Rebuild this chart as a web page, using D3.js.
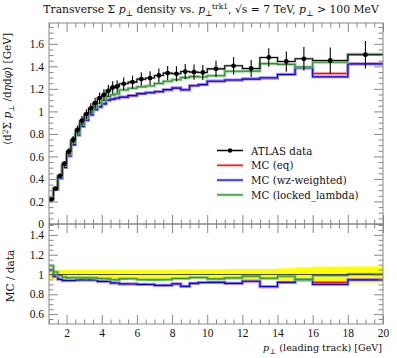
<!DOCTYPE html>
<html><head><meta charset="utf-8">
<script src="https://cdn.jsdelivr.net/npm/d3@7"></script>
<style>
html,body{margin:0;padding:0;background:#fff;}
svg{display:block;font-family:"DejaVu Serif",serif;}
</style></head>
<body><svg id="c" width="397" height="358"></svg>
<script>
// ---------- data ----------
const binEdges = [1,1.25,1.5,1.75,2,2.25,2.5,2.75,3,3.25,3.5,3.75,4,4.25,4.5,4.75,5,5.5,6,6.5,7,7.5,8,8.5,9,9.5,10,11,12,13,14,15,16,18,20];
const atlasData = [0.215,0.313,0.428,0.535,0.644,0.748,0.837,0.917,0.976,1.026,1.074,1.118,1.147,1.183,1.212,1.221,1.245,1.260,1.287,1.296,1.319,1.340,1.334,1.354,1.349,1.346,1.378,1.405,1.381,1.479,1.443,1.467,1.452,1.503];
const atlasErr = [0.010,0.014,0.019,0.024,0.029,0.034,0.038,0.041,0.044,0.046,0.048,0.050,0.052,0.053,0.055,0.055,0.056,0.057,0.060,0.061,0.063,0.064,0.067,0.068,0.067,0.067,0.072,0.077,0.076,0.082,0.090,0.105,0.115,0.122];
const mcEq = [0.226,0.306,0.409,0.501,0.603,0.705,0.789,0.869,0.924,0.968,1.017,1.042,1.065,1.102,1.107,1.119,1.125,1.142,1.156,1.168,1.176,1.191,1.209,1.190,1.230,1.236,1.270,1.277,1.289,1.293,1.330,1.384,1.336,1.424];
const mcWz = [0.224,0.308,0.407,0.503,0.605,0.703,0.791,0.867,0.922,0.970,1.015,1.040,1.067,1.100,1.109,1.117,1.127,1.140,1.158,1.166,1.174,1.193,1.207,1.192,1.228,1.238,1.268,1.279,1.287,1.299,1.328,1.388,1.307,1.422];
const mcLocked = [0.234,0.321,0.424,0.521,0.622,0.723,0.809,0.886,0.943,0.991,1.037,1.073,1.097,1.131,1.147,1.155,1.190,1.205,1.218,1.226,1.248,1.268,1.281,1.300,1.309,1.306,1.317,1.357,1.358,1.424,1.418,1.394,1.437,1.508];
const seriesNames = ["ATLAS data","MC (eq)","MC (wz-weighted)","MC (locked_lambda)"];
const xTickLabels = [2,4,6,8,10,12,14,16,18,20];
const yTickLabels = [0,0.2,0.4,0.6,0.8,1,1.2,1.4,1.6];
const ratioTickLabels = [0.6,0.8,1,1.2,1.4];

// ---------- layout ----------
const L=49, R=383, T=23, M=224, B=324;
const svg = d3.select("#c");
const x = d3.scaleLinear().domain([1,20]).range([L,R]);
const y = d3.scaleLinear().domain([0,1.785]).range([M,T]);
const yr = d3.scaleLinear().domain([0.5,1.51]).range([B,M]);

const defs = svg.append("defs");
defs.append("clipPath").attr("id","clipTop").append("rect").attr("x",L).attr("y",T).attr("width",R-L).attr("height",M-T);
defs.append("clipPath").attr("id","clipRat").append("rect").attr("x",L).attr("y",M).attr("width",R-L).attr("height",B-M);

const mcSeries = [
  {vals:mcEq, line:"#ff0000", halo:"#ff8080"},
  {vals:mcWz, line:"#0000ff", halo:"#8080ff"},
  {vals:mcLocked, line:"#2f8f2f", halo:"#80c880"}
];

function stepPts(vals){
  const pts=[];
  vals.forEach((v,i)=>{pts.push([binEdges[i],v]);pts.push([binEdges[i+1],v]);});
  return pts;
}

// ---------- top panel ----------
const gTop = svg.append("g").attr("clip-path","url(#clipTop)");
const lineTop = d3.line().x(d=>x(d[0])).y(d=>y(d[1]));
mcSeries.forEach(s=>{
  gTop.append("path").attr("d",lineTop(stepPts(s.vals))).attr("fill","none").attr("stroke",s.halo).attr("stroke-width",3).attr("opacity",0.8);
  gTop.append("path").attr("d",lineTop(stepPts(s.vals))).attr("fill","none").attr("stroke",s.line).attr("stroke-width",1.1);
});
gTop.append("path").attr("d",lineTop(stepPts(atlasData))).attr("fill","none").attr("stroke","#999").attr("stroke-width",2.6).attr("opacity",0.6);
gTop.append("path").attr("d",lineTop(stepPts(atlasData))).attr("fill","none").attr("stroke","#000").attr("stroke-width",1.1);
const centers = atlasData.map((v,i)=>(binEdges[i]+binEdges[i+1])/2);
atlasData.forEach((v,i)=>{
  gTop.append("line").attr("x1",x(centers[i])).attr("x2",x(centers[i]))
    .attr("y1",y(v-atlasErr[i])).attr("y2",y(v+atlasErr[i])).attr("stroke","#000").attr("stroke-width",1.1);
  gTop.append("circle").attr("cx",x(centers[i])).attr("cy",y(v)).attr("r",2.4).attr("fill","#000");
});

// ---------- ratio panel ----------
const gRat = svg.append("g").attr("clip-path","url(#clipRat)");
const band = [];
atlasData.forEach((v,i)=>{
  const r = atlasErr[i]/v;
  band.push({x0:binEdges[i],x1:binEdges[i+1],lo:1-r,hi:1+r});
});
band.forEach(b=>{
  gRat.append("rect").attr("x",x(b.x0)).attr("width",x(b.x1)-x(b.x0)+0.5)
    .attr("y",yr(b.hi)).attr("height",yr(b.lo)-yr(b.hi)).attr("fill","#ffff00");
});
const lineRat = d3.line().x(d=>x(d[0])).y(d=>yr(d[1]));
mcSeries.forEach(s=>{
  const rv = s.vals.map((v,i)=>v/atlasData[i]);
  gRat.append("path").attr("d",lineRat(stepPts(rv))).attr("fill","none").attr("stroke",s.halo).attr("stroke-width",3).attr("opacity",0.8);
  gRat.append("path").attr("d",lineRat(stepPts(rv))).attr("fill","none").attr("stroke",s.line).attr("stroke-width",1.1);
});
gRat.append("line").attr("x1",L).attr("x2",R).attr("y1",yr(1)).attr("y2",yr(1)).attr("stroke","#333").attr("stroke-width",0.9);

// ---------- axes / ticks ----------
const tickCol="#888";
const majX = xTickLabels, minX = d3.range(1,20.01,0.5).filter(v=>v%2!==0);
function styleAxis(g){g.select(".domain").remove();g.selectAll("line").attr("stroke",tickCol);g.selectAll("text").attr("fill","#111").attr("font-family","Liberation Serif, DejaVu Serif, serif").attr("font-size",11.5);}
function xTicks(yPos, dir, labels){
  const mk = dir==="top"?d3.axisTop:d3.axisBottom;
  const a1 = mk(x).tickValues(majX).tickSize(-9).tickPadding(5).tickFormat(labels?d3.format("d"):()=>"");
  const a2 = mk(x).tickValues(minX).tickSize(-4.5).tickFormat(()=>"");
  svg.append("g").attr("transform",`translate(0,${yPos})`).call(a1).call(styleAxis);
  svg.append("g").attr("transform",`translate(0,${yPos})`).call(a2).call(styleAxis);
}
xTicks(T,"top",false); xTicks(M,"bottom",false); xTicks(M,"top",false); xTicks(B,"bottom",true);

function fmtY(v){return v===0?"0":(v===1?"1":d3.format(".1f")(v));}
function yTicks(scale, majors, step, lo, hi){
  const mins = d3.range(lo,hi+1e-9,step).filter(v=>!majors.some(m=>Math.abs(m-v)<1e-6));
  svg.append("g").attr("transform",`translate(${L},0)`).call(d3.axisLeft(scale).tickValues(majors).tickSize(-9).tickPadding(5).tickFormat(fmtY)).call(styleAxis);
  svg.append("g").attr("transform",`translate(${L},0)`).call(d3.axisLeft(scale).tickValues(mins).tickSize(-4.5).tickFormat(()=>"")).call(styleAxis);
  svg.append("g").attr("transform",`translate(${R},0)`).call(d3.axisRight(scale).tickValues(majors).tickSize(-9).tickFormat(()=>"")).call(styleAxis);
  svg.append("g").attr("transform",`translate(${R},0)`).call(d3.axisRight(scale).tickValues(mins).tickSize(-4.5).tickFormat(()=>"")).call(styleAxis);
}
yTicks(y, yTickLabels, 0.05, 0.05, 1.75);
yTicks(yr, ratioTickLabels, 0.05, 0.55, 1.5);

// frames
svg.append("rect").attr("x",L).attr("y",T).attr("width",R-L).attr("height",M-T).attr("fill","none").attr("stroke",tickCol).attr("stroke-width",1);
svg.append("rect").attr("x",L).attr("y",M).attr("width",R-L).attr("height",B-M).attr("fill","none").attr("stroke",tickCol).attr("stroke-width",1);

// ---------- legend ----------
const lg = svg.append("g");
const legY0=150.5, legStep=14.8;
const legStyles = [
  {line:"#000", halo:"#999", dot:true},
  {line:"#ff0000", halo:"#ff8080"},
  {line:"#0000ff", halo:"#8080ff"},
  {line:"#2f8f2f", halo:"#80c880"}
];
seriesNames.forEach((n,i)=>{
  const yy = legY0+i*legStep, st=legStyles[i];
  lg.append("line").attr("x1",217).attr("x2",243).attr("y1",yy).attr("y2",yy).attr("stroke",st.halo).attr("stroke-width",2.6).attr("opacity",0.8);
  lg.append("line").attr("x1",217).attr("x2",243).attr("y1",yy).attr("y2",yy).attr("stroke",st.line).attr("stroke-width",1);
  if(st.dot) lg.append("circle").attr("cx",230).attr("cy",yy).attr("r",2.2).attr("fill","#000");
  lg.append("text").attr("x",251).attr("y",yy+4).attr("font-size",10.3).attr("fill","#111").text(n);
});

// ---------- labels ----------
const title = svg.append("text").attr("x",211).attr("y",13).attr("text-anchor","middle").attr("font-size",10.8).attr("fill","#111");
title.append("tspan").text("Transverse Σ ");
title.append("tspan").attr("font-style","italic").text("p");
title.append("tspan").attr("dy",2.5).attr("font-size",8).text("⊥");
title.append("tspan").attr("dy",-2.5).text(" density vs. ");
title.append("tspan").attr("font-style","italic").text("p");
title.append("tspan").attr("dy",2.5).attr("font-size",8).text("⊥");
title.append("tspan").attr("dy",-7).attr("dx",-0.5).attr("font-size",7.5).text("trk1");
title.append("tspan").attr("dy",4.5).text(", √s = 7 TeV, ");
title.append("tspan").attr("font-style","italic").text("p");
title.append("tspan").attr("dy",2.5).attr("font-size",8).text("⊥");
title.append("tspan").attr("dy",-2.5).text(" > 100 MeV");

const yl = svg.append("text").attr("transform","translate(11,33) rotate(-90)").attr("text-anchor","end").attr("font-size",10.5).attr("fill","#111");
yl.append("tspan").text("⟨d");
yl.append("tspan").attr("dy",-3).attr("font-size",7.5).text("2");
yl.append("tspan").attr("dy",3).text("Σ ");
yl.append("tspan").attr("font-style","italic").text("p");
yl.append("tspan").attr("dy",2.5).attr("font-size",7.5).text("⊥");
yl.append("tspan").attr("dy",-2.5).text(" /d");
yl.append("tspan").attr("font-style","italic").text("η");
yl.append("tspan").text("d");
yl.append("tspan").attr("font-style","italic").text("φ");
yl.append("tspan").text("⟩ [GeV]");

svg.append("text").attr("transform","translate(14,276) rotate(-90)").attr("text-anchor","middle").attr("font-size",10.5).attr("fill","#111").text("MC / data");

const xl = svg.append("text").attr("x",382).attr("y",351).attr("text-anchor","end").attr("font-size",9.6).attr("fill","#111");
xl.append("tspan").attr("font-style","italic").text("p");
xl.append("tspan").attr("dy",2.5).attr("font-size",7.5).text("⊥");
xl.append("tspan").attr("dy",-2.5).text(" (leading track) [GeV]");
</script></body></html>
